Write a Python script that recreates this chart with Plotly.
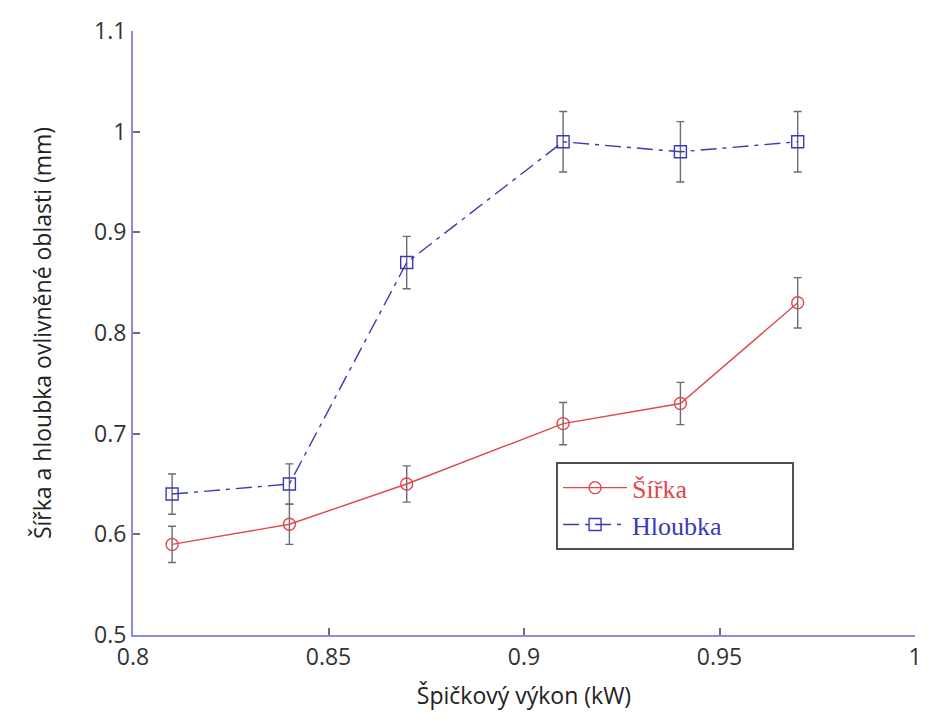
import plotly.graph_objects as go

power_kw = [0.81, 0.84, 0.87, 0.91, 0.94, 0.97]
sirka = [0.59, 0.61, 0.65, 0.71, 0.73, 0.83]
sirka_err = [0.018, 0.02, 0.018, 0.021, 0.021, 0.025]
hloubka = [0.64, 0.65, 0.87, 0.99, 0.98, 0.99]
hloubka_err = [0.02, 0.02, 0.026, 0.03, 0.03, 0.03]
x_ticks = [0.8, 0.85, 0.9, 0.95, 1.0]
x_tick_labels = ["0.8", "0.85", "0.9", "0.95", "1"]
y_ticks = [0.5, 0.6, 0.7, 0.8, 0.9, 1.0, 1.1]
y_tick_labels = ["0.5", "0.6", "0.7", "0.8", "0.9", "1", "1.1"]

RED = "#e0484a"
BLUE = "#3a3ab8"
ERR = "#6a6a78"
PAD = "&nbsp;" * 10

fig = go.Figure()
fig.add_trace(go.Scatter(
    x=power_kw, y=sirka, mode="lines+markers",
    name=f"<span style='color:{RED}'>Šířka</span>",
    line=dict(color=RED, width=1.4),
    marker=dict(symbol="circle-open", size=12, color=RED, line=dict(width=1.4)),
    error_y=dict(type="data", array=sirka_err, color=ERR, thickness=1.4, width=4),
))
fig.add_trace(go.Scatter(
    x=power_kw, y=hloubka, mode="lines+markers",
    name=f"<span style='color:{BLUE}'>Hloubka</span>{PAD}",
    line=dict(color=BLUE, width=1.4, dash="16px,6px,4px,6px"),
    marker=dict(symbol="square-open", size=12, color=BLUE, line=dict(width=1.4)),
    error_y=dict(type="data", array=hloubka_err, color=ERR, thickness=1.4, width=4),
))

TICKFONT = dict(family="Open Sans", size=23, color="#333")
TITLEFONT = dict(family="Open Sans", size=23, color="#222")

fig.update_layout(
    width=933, height=724,
    margin=dict(l=133, r=11, t=31, b=89),
    plot_bgcolor="white", paper_bgcolor="white",
    showlegend=True,
    legend=dict(
        x=0.541, y=0.286, xanchor="left", yanchor="top",
        bordercolor="#505050", borderwidth=2, bgcolor="white",
        font=dict(family="Liberation Serif", size=26),
        itemwidth=64, tracegroupgap=0,
    ),
)
fig.update_xaxes(
    range=[0.8, 1.0], tickvals=x_ticks, ticktext=x_tick_labels,
    showgrid=False, zeroline=False,
    showline=True, linecolor="#8c8ce0", linewidth=2,
    ticks="inside", ticklen=7, tickcolor="#6a6a90", tickwidth=1.5,
    tickfont=TICKFONT,
    title=dict(text="Špičkový výkon (kW)", font=TITLEFONT, standoff=17),
)
fig.update_yaxes(
    range=[0.5, 1.1], tickvals=y_ticks, ticktext=y_tick_labels,
    showgrid=False, zeroline=False,
    showline=True, linecolor="#8c8ce0", linewidth=2,
    ticks="inside", ticklen=7, tickcolor="#6a6a90", tickwidth=1.5,
    tickfont=TICKFONT,
    title=dict(text="Šířka a hloubka ovlivněné oblasti (mm)", font=TITLEFONT, standoff=36),
)

fig.write_html("out.html")
